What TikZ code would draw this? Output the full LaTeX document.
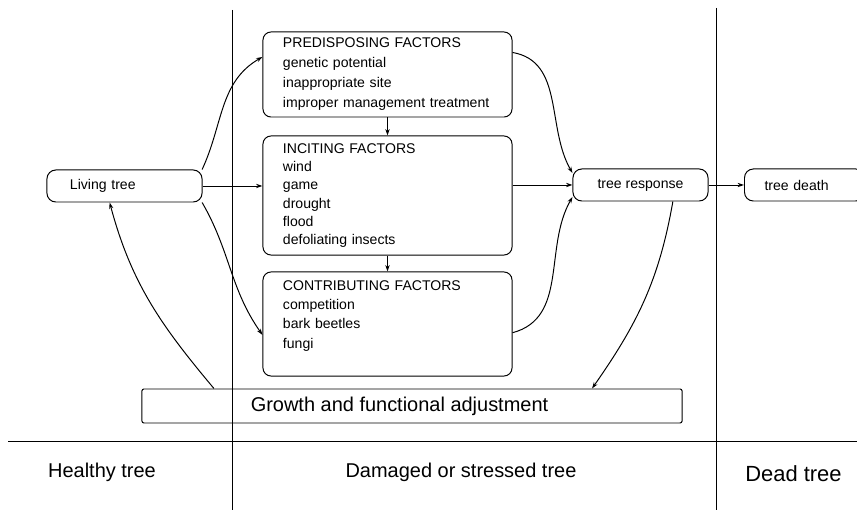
\documentclass[tikz,border=0pt]{standalone}
\usepackage{fontspec}
\setmainfont{Liberation Sans}
\usetikzlibrary{arrows.meta}

\begin{document}
\begin{tikzpicture}[x=0.025cm, y=0.025cm, line width=0.7pt,
    factor/.style={rectangle, draw, rounded corners=0.2cm, minimum width=6.225cm, text width=5.225cm, inner xsep=0.5cm, align=left},
    state/.style={rectangle, draw, rounded corners=0.22cm, minimum height=0.8cm, font=\fontsize{10}{12}\selectfont},
    stage/.style={font=\fontsize{14.2}{17}\selectfont},
    link/.style={-{Stealth[length=4.5pt,width=3pt]}}]
    \clip (0,0) rectangle (857,-510);

    \draw (232,-10) -- (232,-510);
    \draw (716,-8) -- (716,-510);
    \draw (8,-441) -- (857,-441);

    \node[factor, minimum height=2.125cm, font=\fontsize{10}{14.2}\selectfont] (pre) at (387.5,-74.5) {PREDISPOSING FACTORS\\genetic potential\\inappropriate site\\improper management treatment};
    \node[factor, minimum height=2.975cm, font=\fontsize{10}{13}\selectfont] (inc) at (387.5,-195.5) {INCITING FACTORS\\wind\\game\\drought\\flood\\defoliating insects};
    \node[factor, minimum height=2.6cm, font=\fontsize{10}{13.7}\selectfont] (con) at (387.5,-324) {CONTRIBUTING FACTORS\\competition\\bark beetles\\fungi\\~};

    \node[state, text width=2.725cm, inner xsep=0.575cm, align=left] (liv) at (124.5,-186) {Living tree};
    \node[state, minimum width=3.375cm] (resp) at (640.5,-185) {tree response};
    \node[state, text width=2cm, inner xsep=0.5cm, align=left, anchor=west] (death) at (744,-185) {tree death};
    \node[rectangle, draw, rounded corners=0.05cm, minimum width=13.5cm, minimum height=0.85cm, font=\fontsize{14.2}{17}\selectfont] (growth) at (412,-406) {Growth and functional adjustment\hspace*{0.625cm}};

    \node[stage] (healthy) at (102,-472) {Healthy tree};
    \node[stage] (damaged) at (461,-472) {Damaged or stressed tree};
    \node[stage, font=\fontsize{15.6}{18}\selectfont] (dead) at (793.5,-474) {Dead tree};

    \draw[link] (liv.12) to[out=65, in=210] (pre.172);
    \draw[link] (liv.east) -- (liv.east -| inc.west);
    \draw[link] (liv.-12) to[out=-60, in=125] (con.185);
    \draw[link] (pre.10) to[out=-10, in=120] (resp.170);
    \draw[link] (inc.east |- resp.west) -- (resp.west);
    \draw[link] (con.-4) to[out=15, in=-120] (resp.190);
    \draw[link] (pre.south) -- (inc.north);
    \draw[link] (inc.south) -- (con.north);
    \draw[link] (resp.east) -- (death.west);
    \draw[link] (resp.-27) to[out=-100, in=55] ([xshift=4.5cm]growth.north);
    \draw[link] ([xshift=-4.95cm]growth.north) to[out=130, in=-75] (liv.228);
\end{tikzpicture}
\end{document}
